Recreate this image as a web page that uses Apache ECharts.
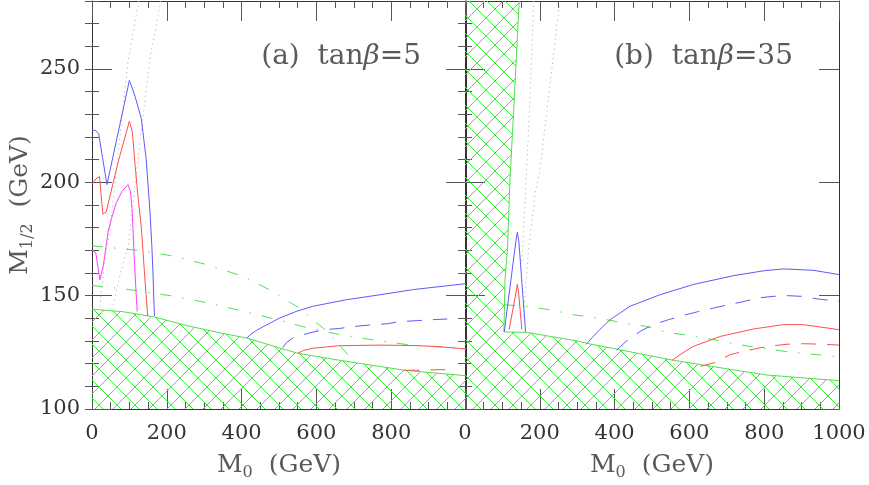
<!DOCTYPE html>
<html><head><meta charset="utf-8">
<script src="https://cdn.jsdelivr.net/npm/echarts@6/dist/echarts.min.js"></script>
<style>html,body{margin:0;padding:0;background:#fff}#c{width:869px;height:485px}</style>
</head><body><div id="c"></div>
<script>
// ---------------- data: panel (a) tanβ=5 ----------------
var xTicks = [0, 200, 400, 600, 800, 1000];
var yTicks = [100, 150, 200, 250];
var hatchA = [[0,144],[80,143],[167,140.6],[256,136.7],[345,133.5],[414,131.3],[500,127],[550,124.6],[680,121],[840,117],[1000,114.7]];
var blueA_left = [[0,223],[10,222.8],[18,221.5],[28,211],[40,199],[100,245],[115,238],[132,228],[145,210],[155,187],[160,172],[163,160],[165,150],[167,141]];
var redA_left = [[0,199],[10,201.5],[20,202.5],[29,186],[38,187],[70,209],[100,227],[108,222],[115,208],[124,192],[132,180],[137,168],[142,156],[149,141]];
var magentaA = [[0,170],[10,169],[21,157],[30,163],[43,178],[52,184],[65,191],[80,196],[96,199],[103,196],[107,188],[109,182],[112,170],[115,160],[118,151],[121,143]];
var greenA_upper = [[0,172],[123,170],[220,167.4],[314,163.4],[407,158.3],[487,151.5],[518,148.2],[555,144.5],[590,139.5],[630,134],[684,124],[706,120.2],[715,119]];
var greenA_lower = [[0,154.5],[118,152.3],[220,149.7],[314,146.7],[407,143],[496,139.4],[563,136.4],[590,135.4],[657,133],[750,130.5],[848,128.3],[937,127.3],[1000,126.5]];
var blueA_solid = [[414,131.3],[425,133],[440,134.7],[460,136.5],[500,140],[545,143],[590,145.3],[680,148.2],[770,150.4],[860,152.7],[1000,155.3]];
var blueA_dash = [[510,127],[520,129.3],[537,131.3],[580,133.5],[620,135],[660,135.5],[700,136.4],[740,137],[790,137.6],[820,138.5],[870,139],[910,139.4],[950,139.7]];
var redA_solid = [[550,124.6],[565,125.8],[590,126.8],[660,127.9],[770,128.2],[860,128],[920,127.6],[1000,126.5]];
var redA_dash = [[835,117.1],[880,117.1],[920,117.3],[960,117.4]];
var dotA1 = [[125,280],[96,253],[68,210],[48,179],[34,166],[21,145]];
var dotA2 = [[184,280],[154,254],[123,210],[97,172],[76,160],[57,146]];
// ---------------- data: panel (b) tanβ=35 ----------------
var hatchB = [[145,280],[134,244],[120,200],[114,172],[107,157],[104,134],[165,133.8],[307,129.8],[325,129],[557,121.5],[717,117.3],[807,115],[1000,112.5]];
var blueB_spike = [[105,134],[136,174],[140,178],[144,174],[162,134]];
var redB_spike = [[118,135],[137,152],[140,155],[143,152],[152,135]];
var blueB_solid = [[324,128.5],[340,131.5],[360,135],[388,139.4],[441,145.3],[521,150.4],[610,154.9],[717,158.8],[800,161],[851,161.8],[931,161.2],[1000,159.3]];
var blueB_dash = [[405,126],[432,130],[468,134.2],[503,137.2],[544,139.4],[584,141.3],[624,143],[664,144.5],[704,146],[740,147.2],[784,149],[824,149.7],[864,150],[900,149.7],[945,148.5],[1000,147.5]];
var redB_solid = [[553,121.4],[580,124.5],[610,127.6],[682,132],[771,135.3],[851,137.2],[905,137.2],[1000,135]];
var redB_dash = [[630,118.8],[668,120.5],[709,124],[744,125.4],[789,127],[829,128],[864,128.6],[909,128.8],[949,128.6],[1000,128.2]];
var greenB = [[105,146],[160,145.3],[227,143.8],[290,141.6],[356,140.1],[423,138],[486,136.4],[539,133.8],[602,132.4],[668,130.5],[704,129.3],[762,127.6],[856,125.4],[922,124.3],[1000,123]];
var dotB1 = [[184,280],[172,230],[160,190],[152,165]];
var dotB2 = [[252,278],[223,237],[200,205],[187,195],[170,170],[160,150],[157,140]];

var X_MIN = 0, X_MAX = 1000, Y_MIN = 100, Y_MAX = 280;

// ---------------- styles ----------------
var FONT = 'DejaVu Serif';
var BLUE = '#5b5bff', RED = '#ff4d4d', MAG = '#ff3cff', GREEN = '#4fe04f', GRAY = '#b5b5b5';
var AX = '#333';
var TXT = '#5a5a5a';

var TILE = 18;
var pat = document.createElement('canvas');
pat.width = TILE; pat.height = TILE;
(function(){
  var c = pat.getContext('2d');
  c.strokeStyle = '#33ee33'; c.lineWidth = 1;
  c.beginPath();
  c.moveTo(-1,-1); c.lineTo(TILE+1,TILE+1);
  c.moveTo(-1,TILE+1); c.lineTo(TILE+1,-1);
  c.stroke();
})();

var chart = echarts.init(document.getElementById('c'), null, {renderer:'canvas'});

var nameStyle = {fontFamily:FONT, fontSize:25, color:TXT,
  rich:{m:{fontFamily:FONT, fontSize:25, color:TXT}, s:{fontFamily:FONT, fontSize:16, color:TXT, padding:[16,0,0,0]}}};

function xAxes(g, labels) {
  var base = {
    type:'value', gridIndex:g, min:X_MIN, max:X_MAX, interval:200,
    axisLine:{show:true, onZero:false, lineStyle:{color:AX, width:1}},
    axisTick:{show:true, inside:true, length:20, lineStyle:{color:'#555', width:1}},
    minorTick:{show:true, splitNumber:4, length:7, lineStyle:{color:'#555', width:1}},
    splitLine:{show:false}, minorSplitLine:{show:false}
  };
  var bottom = Object.assign({}, base, {
    position:'bottom',
    axisLabel:{show:true, fontFamily:FONT, fontSize:21, color:AX, margin:14, showMaxLabel: labels.showMax, showMinLabel:true,
      formatter:function(v){ return xTicks.indexOf(v) >= 0 ? String(v) : ''; }},
    name:'{m|M}{s|0}  (GeV)', nameLocation:'middle', nameGap:40,
    nameTextStyle:nameStyle
  });
  var top = Object.assign({}, base, {position:'top', axisLabel:{show:false}});
  return [bottom, top];
}
function yAxes(g, labels) {
  var lineOn = {show:true, onZero:false, lineStyle:{color:AX, width:1}};
  var major = {
    type:'value', gridIndex:g, min:Y_MIN, max:Y_MAX, interval:50,
    axisLine:lineOn,
    axisTick:{show:true, inside:true, length:20, lineStyle:{color:'#555', width:1}},
    splitLine:{show:false}
  };
  var minor = {
    type:'value', gridIndex:g, min:Y_MIN, max:Y_MAX, interval:10,
    axisLine:{show:false},
    axisTick:{show:true, inside:true, length:7, lineStyle:{color:'#555', width:1}},
    splitLine:{show:false}, axisLabel:{show:false}
  };
  var leftMajor = Object.assign({}, major, {position:'left',
    axisLabel: labels ? {show:true, fontFamily:FONT, fontSize:21, color:AX, margin:12, showMaxLabel:false,
      formatter:function(v){ return yTicks.indexOf(v) >= 0 ? String(v) : ''; }} : {show:false}
  });
  if (labels) {
    leftMajor.name = '{m|M}{s|1/2}  (GeV)';
    leftMajor.nameLocation = 'middle';
    leftMajor.nameGap = 50;
    leftMajor.nameTextStyle = nameStyle;
  }
  var leftMinor = Object.assign({}, minor, {position:'left'});
  var rightMajor = Object.assign({}, major, {position:'right', axisLabel:{show:false}});
  var rightMinor = Object.assign({}, minor, {position:'right'});
  return [leftMajor, leftMinor, rightMajor, rightMinor];
}

function line(data, xi, yi, color, type, z) {
  return {type:'line', data:data, xAxisIndex:xi, yAxisIndex:yi, showSymbol:false, symbol:'none', silent:true,
    animation:false, clip:true, z: z || 3,
    lineStyle:{color:color, width:1, type:type || 'solid'}};
}
function hatch(points, xi, yi) {
  return {type:'custom', xAxisIndex:xi, yAxisIndex:yi, data:[[X_MIN, Y_MIN]], encode:{x:0, y:1},
    silent:true, animation:false, clip:true, z:1,
    renderItem:function(params, api){
      var poly;
      if (points[0][1] >= Y_MAX) poly = [[X_MIN, Y_MIN],[X_MIN, Y_MAX]].concat(points).concat([[X_MAX, Y_MIN]]);
      else poly = [[X_MIN, Y_MIN]].concat(points).concat([[X_MAX, Y_MIN]]);
      return {type:'polygon', shape:{points: poly.map(function(p){ return api.coord(p); })},
        style:{fill:{image:pat, repeat:'repeat'}, stroke:null}};
    }};
}

var DASH = [15, 11];
var DASHDOT = [11, 11, 1.5, 11];
var DOT = [1.2, 3.6];

var option = {
  backgroundColor:'#fff',
  animation:false,
  grid:[
    {left:92, top:1, width:374, height:408, containLabel:false, outerBoundsMode:'none'},
    {left:465, top:1, width:374, height:408, containLabel:false, outerBoundsMode:'none'}
  ],
  xAxis: xAxes(0, {showMax:false}).concat(xAxes(1, {showMax:true})),
  yAxis: yAxes(0, true).concat(yAxes(1, false)),
  graphic:[
    {type:'text', x:421, y:57, z:100, style:{text:'(a)  tan{b|β}=5', align:'right', verticalAlign:'middle',
      fontFamily:FONT, fontSize:28, fill:TXT, rich:{b:{fontFamily:FONT, fontSize:28, fontStyle:'italic', fill:TXT}}}},
    {type:'text', x:793, y:57, z:100, style:{text:'(b)  tan{b|β}=35', align:'right', verticalAlign:'middle',
      fontFamily:FONT, fontSize:28, fill:TXT, rich:{b:{fontFamily:FONT, fontSize:28, fontStyle:'italic', fill:TXT}}}}
  ],
  series:[
    hatch(hatchA, 0, 0),
    line(hatchA, 0, 0, GREEN, 'solid', 2),
    line(dotA1, 0, 0, GRAY, DOT),
    line(dotA2, 0, 0, GRAY, DOT),
    line(greenA_upper, 0, 0, GREEN, DASHDOT),
    line(greenA_lower, 0, 0, GREEN, DASHDOT),
    line(blueA_left, 0, 0, BLUE),
    line(redA_left, 0, 0, RED),
    line(magentaA, 0, 0, MAG),
    line(blueA_solid, 0, 0, BLUE),
    line(blueA_dash, 0, 0, BLUE, DASH),
    line(redA_solid, 0, 0, RED),
    line(redA_dash, 0, 0, RED, DASH),

    hatch(hatchB, 2, 4),
    line(hatchB, 2, 4, GREEN, 'solid', 2),
    line(dotB1, 2, 4, GRAY, DOT),
    line(dotB2, 2, 4, GRAY, DOT),
    line(greenB, 2, 4, GREEN, DASHDOT),
    line(blueB_spike, 2, 4, BLUE),
    line(redB_spike, 2, 4, RED),
    line(blueB_solid, 2, 4, BLUE),
    line(blueB_dash, 2, 4, BLUE, DASH),
    line(redB_solid, 2, 4, RED),
    line(redB_dash, 2, 4, RED, DASH)
  ]
};
chart.setOption(option);
</script>
</body></html>
